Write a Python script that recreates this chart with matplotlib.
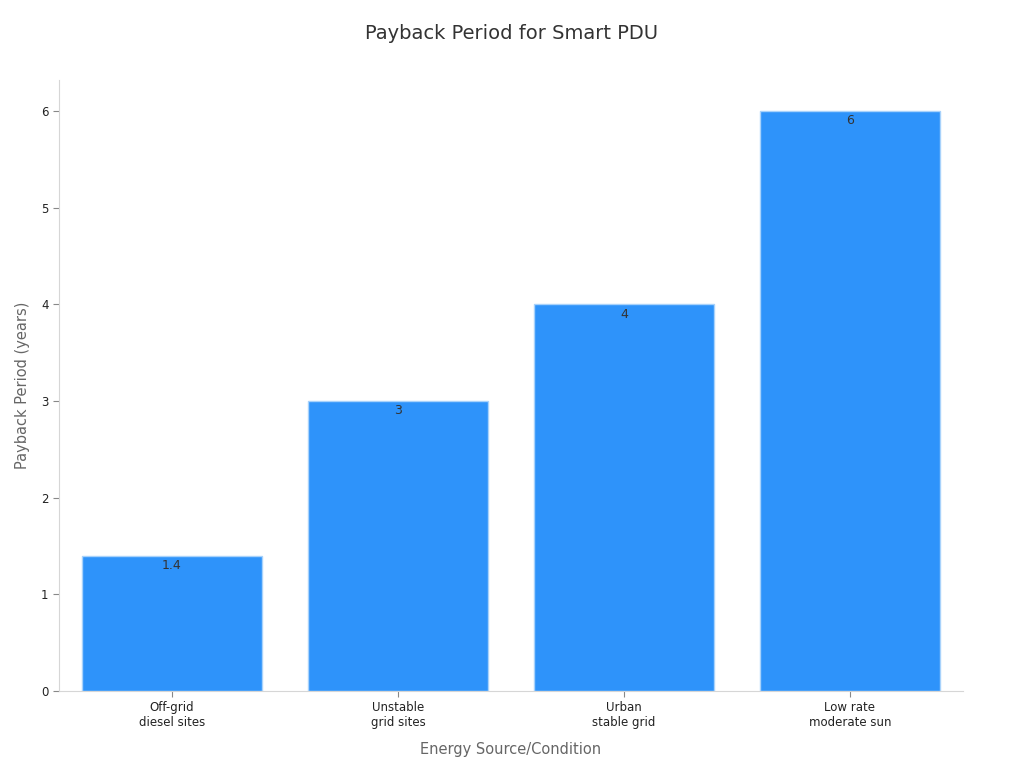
import matplotlib
matplotlib.use("Agg")
import matplotlib.pyplot as plt

categories = ["Off-grid\ndiesel sites", "Unstable\ngrid sites", "Urban\nstable grid", "Low rate\nmoderate sun"]
values = [1.4, 3, 4, 6]
value_labels = ["1.4", "3", "4", "6"]
yticks = [0, 1, 2, 3, 4, 5, 6]

fig = plt.figure(figsize=(10.24, 7.68), dpi=100)
ax = fig.add_axes([0.0576, 0.1003, 0.8828, 0.7955])

x = list(range(len(categories)))
bars = ax.bar(x, values, width=0.8, color="#2E93FA", edgecolor="#a8d2fb", linewidth=1)
for xi, v, lab in zip(x, values, value_labels):
    ax.annotate(lab, (xi, v), xytext=(0, -2.5), textcoords="offset points",
                ha="center", va="top", fontsize=9, color="#333333")

ax.set_xlim(-0.5, 3.5)
ax.set_ylim(0, 6.32)
ax.set_xticks(x)
ax.set_xticklabels(categories, fontsize=8.5, color="#222222")
ax.set_yticks(yticks)
ax.set_yticklabels([str(t) for t in yticks], fontsize=8.5, color="#222222")
ax.tick_params(axis="both", colors="#888888", labelcolor="#222222", length=4)

for s in ["top", "right"]:
    ax.spines[s].set_visible(False)
for s in ["left", "bottom"]:
    ax.spines[s].set_color("#d6d6d6")

ax.set_xlabel("Energy Source/Condition", fontsize=10.5, color="#666666", labelpad=9)
ax.set_ylabel("Payback Period (years)", fontsize=10.5, color="#666666", labelpad=8)
fig.text(0.5, 0.957, "Payback Period for Smart PDU", fontsize=14, color="#333333",
         ha="center", va="center")

fig.savefig("out.png", dpi=100)
